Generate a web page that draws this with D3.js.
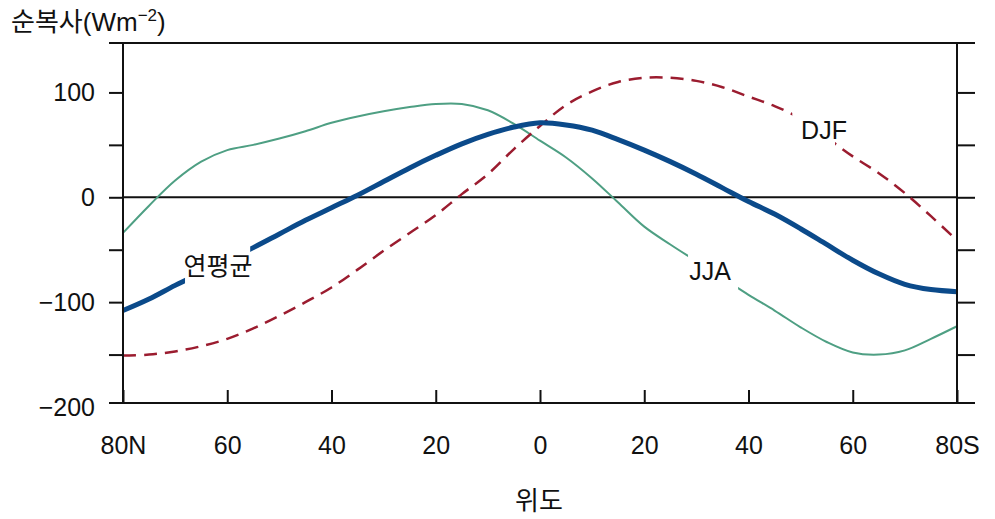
<!DOCTYPE html>
<html><head><meta charset="utf-8">
<script src="https://cdn.jsdelivr.net/npm/d3@7"></script>
<style>
body{margin:0;background:#fff}
text{font-family:"Liberation Sans","Noto Sans CJK KR",sans-serif;fill:#111}
</style>
</head><body>
<svg id="c" width="995" height="519"></svg>
<script>
// ---- data ----
const latitudes = [80,75,70,65,60,55,50,45,40,35,30,25,20,15,10,5,0,-5,-10,-15,-20,-25,-30,-35,-40,-45,-50,-55,-60,-65,-70,-75,-80];
const annual = [-108,-97,-84,-72,-60,-48,-35,-22,-10,2,15,28,40,51,60,67,71,69,64,55,45,34,22,9,-4,-16,-30,-45,-60,-73,-83,-88,-90];
const djf    = [-151,-150,-147,-142,-135,-125,-113,-100,-86,-69,-51,-34,-17,3,22,46,68,88,101,110,114,114,111,105,96,87,75,57,39,23,4,-18,-41];
const jja    = [-34,-8,16,34,45,50,56,63,71,77,82,86,89,89,83,70,54,38,18,-5,-28,-45,-61,-77,-93,-108,-124,-138,-148,-150,-146,-135,-123];
const seriesNames = ["연평균","DJF","JJA"];
const xTickValues = [80,60,40,20,0,-20,-40,-60,-80];
const xTickLabels = ["80N","60","40","20","0","20","40","60","80S"];
const yTickValues = [-200,-150,-100,-50,0,50,100];
const yTickLabels = {"-200":"−200","-100":"−100","0":"0","100":"100"};
const yTitle = "순복사(Wm";
const yTitleSup = "−2";
const xTitle = "위도";
// label gaps (latitude ranges where each line is interrupted by its label)
const annualGap = [68.1, 55.6];
const jjaGap = [-28.4, -38];
const djfGap = [-48.4, -56.6];

// ---- layout ----
const L = 123, R = 957, T = 43, B = 403;
const svg = d3.select("#c");
const x = d3.scaleLinear().domain([80,-80]).range([L,R]);
const y = d3.scaleLinear().domain([-200,150]).range([407,40]);

const pts = vals => latitudes.map((la,i)=>[la,vals[i]]);
const line = d3.line().x(d=>x(d[0])).y(d=>y(d[1])).curve(d3.curveCatmullRom.alpha(0.5));

// zero line
svg.append("line").attr("x1",L).attr("x2",R).attr("y1",y(0)).attr("y2",y(0))
  .attr("stroke","#111").attr("stroke-width",2);

// masks for gaps
const defs = svg.append("defs");
function mkMask(id, gap){
  const m = defs.append("mask").attr("id",id).attr("maskUnits","userSpaceOnUse")
    .attr("x",0).attr("y",0).attr("width",995).attr("height",519);
  m.append("rect").attr("x",0).attr("y",0).attr("width",995).attr("height",519).attr("fill","#fff");
  m.append("rect").attr("x",x(gap[0])).attr("y",0).attr("width",x(gap[1])-x(gap[0])).attr("height",519).attr("fill","#000");
}
mkMask("mA", annualGap); mkMask("mJ", jjaGap); mkMask("mD", djfGap);

svg.append("path").attr("d",line(pts(jja))).attr("fill","none")
  .attr("stroke","#4e9f83").attr("stroke-width",2).attr("mask","url(#mJ)");
svg.append("path").attr("d",line(pts(djf))).attr("fill","none")
  .attr("stroke","#9b1c2f").attr("stroke-width",2.5).attr("stroke-dasharray","13,8").attr("mask","url(#mD)");
svg.append("path").attr("d",line(pts(annual))).attr("fill","none")
  .attr("stroke","#0b4a8a").attr("stroke-width",5).attr("mask","url(#mA)");

// frame
const fr = svg.append("g").attr("stroke","#111").attr("stroke-width",2);
fr.append("line").attr("x1",109).attr("x2",975).attr("y1",T).attr("y2",T);
fr.append("line").attr("x1",109).attr("x2",975).attr("y1",B).attr("y2",B);
fr.append("line").attr("x1",L).attr("x2",L).attr("y1",T).attr("y2",B);
fr.append("line").attr("x1",R).attr("x2",R).attr("y1",T).attr("y2",B);

// left axis
const gl = svg.append("g").attr("transform",`translate(${L},0)`)
  .call(d3.axisLeft(y).tickValues(yTickValues).tickSize(14).tickPadding(14)
    .tickFormat(d=>yTickLabels[String(d)]||""));
gl.select(".domain").remove();
gl.selectAll(".tick").filter(d=>d===-200).select("line").remove();
gl.selectAll(".tick line").attr("stroke","#111").attr("stroke-width",2);
gl.selectAll(".tick text").attr("font-size",25).attr("fill","#111")
  .style("font-family",'"Liberation Sans",sans-serif');

// right axis
const gr = svg.append("g").attr("transform",`translate(${R},0)`)
  .call(d3.axisRight(y).tickValues(yTickValues.filter(v=>v>-200)).tickSize(18).tickFormat(""));
gr.select(".domain").remove();
gr.selectAll(".tick line").attr("stroke","#111").attr("stroke-width",2);

// bottom axis
const gb = svg.append("g").attr("transform",`translate(0,${B})`)
  .call(d3.axisBottom(x).tickValues(xTickValues).tickSize(-13).tickPadding(33)
    .tickFormat((d,i)=>xTickLabels[i]));
gb.select(".domain").remove();
gb.selectAll(".tick line").attr("stroke","#111").attr("stroke-width",2);
gb.selectAll(".tick text").attr("font-size",25).attr("fill","#111")
  .style("font-family",'"Liberation Sans",sans-serif');

// titles
const yt = svg.append("text").attr("x",11).attr("y",31).attr("font-size",26);
yt.append("tspan").text(yTitle);
yt.append("tspan").attr("font-size",17).attr("dy",-10).text(yTitleSup);
yt.append("tspan").attr("dy",10).text(")");
svg.append("text").attr("x",539).attr("y",510).attr("text-anchor","middle")
  .attr("font-size",26).text(xTitle);

// series labels
svg.append("text").attr("x",218).attr("y",275).attr("text-anchor","middle").attr("font-size",25).text(seriesNames[0]);
svg.append("text").attr("x",824).attr("y",139).attr("text-anchor","middle").attr("font-size",25).text(seriesNames[1]);
svg.append("text").attr("x",710).attr("y",280).attr("text-anchor","middle").attr("font-size",25).text(seriesNames[2]);
</script>
</body></html>
